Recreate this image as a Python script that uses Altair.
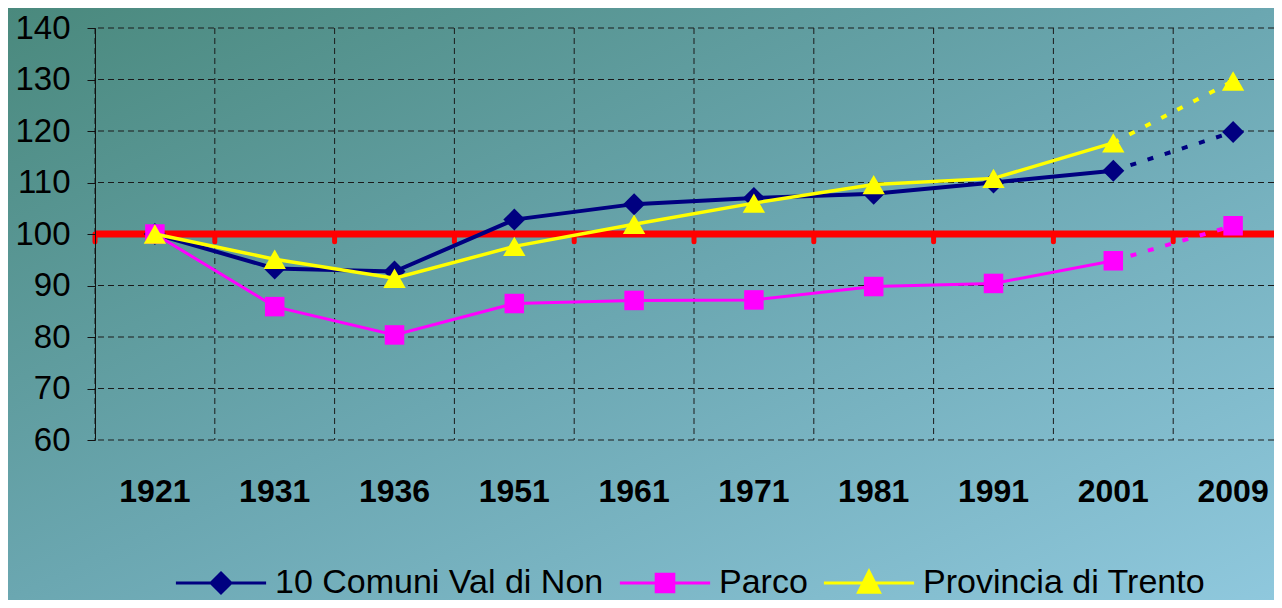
import altair as alt
import pandas as pd

# ---------------- data ----------------
years = ["1921", "1931", "1936", "1951", "1961", "1971", "1981", "1991", "2001", "2009"]
comuni = [100, 93.3, 92.7, 102.8, 105.8, 107.0, 107.8, 110.0, 112.3, 119.8]
parco = [100, 85.9, 80.4, 86.5, 87.1, 87.2, 89.8, 90.4, 94.8, 101.6]
provincia = [100, 95.1, 91.4, 97.6, 101.9, 106.0, 109.6, 110.8, 117.7, 129.7]
series_names = ["10 Comuni Val di Non", "Parco", "Provincia di Trento"]
series_values = [comuni, parco, provincia]
y_ticks = [60, 70, 80, 90, 100, 110, 120, 130, 140]
reference_level = [100]
estimate_years = ["2001", "2009"]

# ---------------- style ----------------
FONT = "Liberation Sans, Arial, sans-serif"
W, H = 1179, 412
series_colors = ["#000080", "#FF00FF", "#FFFF00"]
marker_shapes = ["diamond", "square", "triangle-up"]
marker_sizes = [484, 380, 500]
line_widths = [4, 3, 3.5]
legend_paths = [
    "M-4.1,0H4.1M0,-0.9L0.9,0L0,0.9L-0.9,0Z",
    "M-4.1,0H4.1M-0.8,-0.8H0.8V0.8H-0.8Z",
    "M-4.1,0H4.1M0,-1.05L0.95,0.85L-0.95,0.85Z",
]

rows = []
for name, vals in zip(series_names, series_values):
    for y, v in zip(years, vals):
        rows.append({"series": name, "year": y, "value": v})
df = pd.DataFrame(rows)

x_scale = alt.Scale(type="band", domain=years, range=[0, 1198], paddingInner=0, paddingOuter=0)
x_axis = alt.Axis(title=None, grid=False, ticks=False, domain=False, labelFontSize=32,
                  labelFontWeight="bold", labelFont=FONT, labelColor="black",
                  labelPadding=36, zindex=1, labelAngle=0)
y_scale = alt.Scale(domain=[60, 140], nice=False, zero=False)
y_axis = alt.Axis(title=None, values=y_ticks, grid=False, tickSize=8, tickColor="#111111",
                  domainColor="#111111", labelFontSize=33, labelFont=FONT,
                  labelColor="black", labelPadding=17, zindex=1)

X = alt.X("year:O", scale=x_scale, axis=x_axis)
Y = alt.Y("value:Q", scale=y_scale, axis=y_axis)

bg = alt.Chart(pd.DataFrame({"a": [0]})).mark_rect(
    fill=alt.LinearGradient(
        gradient="linear",
        stops=[alt.GradientStop(color="#4A897D", offset=0),
               alt.GradientStop(color="#6BA7B1", offset=0.5),
               alt.GradientStop(color="#8FC8DD", offset=1)],
        x1=0, y1=0, x2=1, y2=1),
    stroke=None,
).encode(x=alt.value(-87), x2=alt.value(W), y=alt.value(-20), y2=alt.value(572))

grid_style = dict(color="#1a1a1a", strokeWidth=1, strokeDash=[6, 4])
hgrid = alt.Chart(pd.DataFrame({"tick": y_ticks})).mark_rule(**grid_style).encode(
    y=alt.Y("tick:Q", scale=y_scale, axis=y_axis))
vgrid = alt.Chart(pd.DataFrame({"year": years})).mark_rule(**grid_style).encode(
    x=alt.X("year:O", scale=x_scale, axis=x_axis, bandPosition=0))

red_line = alt.Chart(pd.DataFrame({"level": reference_level})).mark_rule(
    color="#FF0000", strokeWidth=7).encode(y=alt.Y("level:Q", scale=y_scale, axis=y_axis))
red_ticks = alt.Chart(pd.DataFrame({"year": years})).mark_rule(
    color="#FF0000", strokeWidth=5, strokeCap="round").encode(
    x=alt.X("year:O", scale=x_scale, axis=x_axis, bandPosition=0),
    y=alt.YDatum(100, scale=y_scale, axis=y_axis),
    y2=alt.Y2Datum(98.5))

layers = [bg, hgrid, vgrid, red_line, red_ticks]
for name, col, shp, sz, lw in zip(series_names, series_colors, marker_shapes, marker_sizes, line_widths):
    d = df[df.series == name]
    solid = alt.Chart(d[d.year != "2009"]).mark_line(color=col, strokeWidth=lw).encode(x=X, y=Y)
    dotted = alt.Chart(d[d.year.isin(estimate_years)]).mark_line(
        color=col, strokeWidth=4, strokeDash=[6, 12]).encode(x=X, y=Y)
    pts = alt.Chart(d).mark_point(shape=shp, filled=True, size=sz, color=col, opacity=1).encode(x=X, y=Y)
    layers += [solid, dotted, pts]

legend = alt.Legend(title=None, orient="none", legendX=109, legendY=538, direction="horizontal",
                    labelFontSize=34, labelFont=FONT, labelColor="black", symbolSize=484,
                    symbolStrokeWidth=3, labelOffset=37, columnPadding=9, labelLimit=1000,
                    padding=0, symbolOpacity=1)
carrier = alt.Chart(df).transform_filter("false").mark_point(filled=True, opacity=1, strokeWidth=3).encode(
    x=X, y=Y,
    fill=alt.Fill("series:N", scale=alt.Scale(domain=series_names, range=series_colors), legend=legend),
    stroke=alt.Stroke("series:N", scale=alt.Scale(domain=series_names, range=series_colors), legend=legend),
    shape=alt.Shape("series:N", scale=alt.Scale(domain=series_names, range=legend_paths), legend=legend),
)
layers.append(carrier)

chart = alt.layer(*layers).properties(
    width=W, height=H,
    autosize=alt.AutoSizeParams(type="none"),
    padding={"left": 87, "top": 20, "right": 0, "bottom": 160},
).configure(background="#6BA7B1", font=FONT).configure_view(stroke=None)

chart.save("out.html", embed_options={"renderer": "svg", "actions": False})
